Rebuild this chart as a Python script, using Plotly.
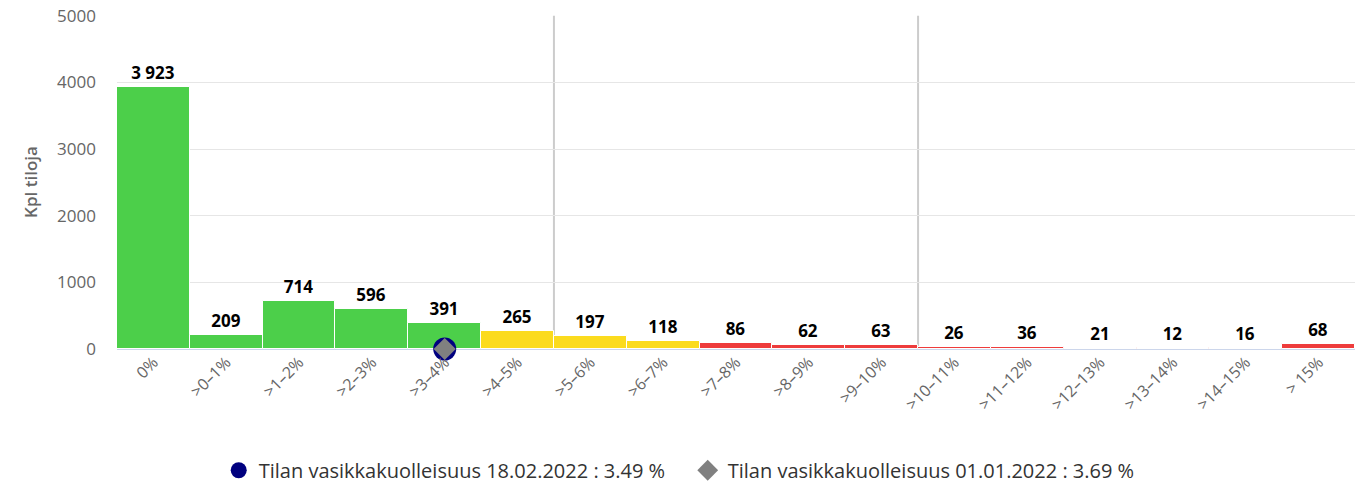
import plotly.graph_objects as go

categories = ["0%", ">0–1%", ">1–2%", ">2–3%", ">3–4%", ">4–5%", ">5–6%", ">6–7%",
              ">7–8%", ">8–9%", ">9–10%", ">10–11%", ">11–12%", ">12–13%", ">13–14%",
              ">14–15%", "> 15%"]
counts = [3923, 209, 714, 596, 391, 265, 197, 118, 86, 62, 63, 26, 36, 21, 12, 16, 68]
bar_colors = ["#4ccf4a"] * 5 + ["#fbdb1e"] * 3 + ["#ee3c3c"] * 9

current_label = "Tilan vasikkakuolleisuus 18.02.2022 : 3.49 %"
current_cat = ">3–4%"
previous_label = "Tilan vasikkakuolleisuus 01.01.2022 : 3.69 %"
previous_cat = ">3–4%"

FONT = "Open Sans"

def fmt(v):
    return f"{v:,}".replace(",", " ")

fig = go.Figure()
fig.add_trace(go.Bar(
    x=categories, y=counts,
    marker=dict(color=bar_colors, line=dict(color="white", width=1)),
    text=[fmt(v) for v in counts], textposition="outside", constraintext="none",
    textfont=dict(family=FONT, size=17, color="#000000", weight="bold"),
    cliponaxis=False, showlegend=False, hoverinfo="x+y",
))
fig.add_trace(go.Scatter(
    x=[current_cat], y=[0], mode="markers", name=current_label,
    marker=dict(symbol="circle", size=23, color="#00007f"), cliponaxis=False,
))
fig.add_trace(go.Scatter(
    x=[previous_cat], y=[0], mode="markers", name=previous_label,
    marker=dict(symbol="diamond", size=17, color="#808080"), cliponaxis=False,
))

for xv in (5.5, 10.5):
    fig.add_shape(type="line", xref="x", yref="y", x0=xv, x1=xv, y0=0, y1=5000,
                  line=dict(color="#cccccc", width=2), layer="below")

fig.update_layout(
    width=1365, height=483,
    margin=dict(l=117, r=10, t=15, b=134, autoexpand=False),
    plot_bgcolor="white", paper_bgcolor="white",
    bargap=0,
    font=dict(family=FONT, color="#666666"),
    xaxis=dict(
        tickangle=-45, tickfont=dict(size=16, color="#666666"),
        showgrid=False, showline=False, ticks="", zeroline=False,
        range=[-0.5, 16.5], automargin=False,
    ),
    yaxis=dict(
        range=[0, 5010], tickvals=[0, 1000, 2000, 3000, 4000, 5000],
        tickfont=dict(size=17, color="#666666"), ticklabeloverflow="allow",
        gridcolor="#e6e6e6", gridwidth=1, zeroline=True, zerolinecolor="#ccd6eb",
        zerolinewidth=1, ticklabelstandoff=20, automargin=False,
        title=dict(text="Kpl tiloja", font=dict(size=17, color="#666666", weight=600), standoff=15),
    ),
    legend=dict(
        orientation="h", x=0.461, xanchor="center",
        y=-0.363, yanchor="middle",
        font=dict(size=20, color="#333333"),
        entrywidth=424, entrywidthmode="pixels",
    ),
)

fig.write_html("out.html", config={"displayModeBar": False},
               post_script="document.body.style.margin='0';document.body.style.overflow='hidden';")
